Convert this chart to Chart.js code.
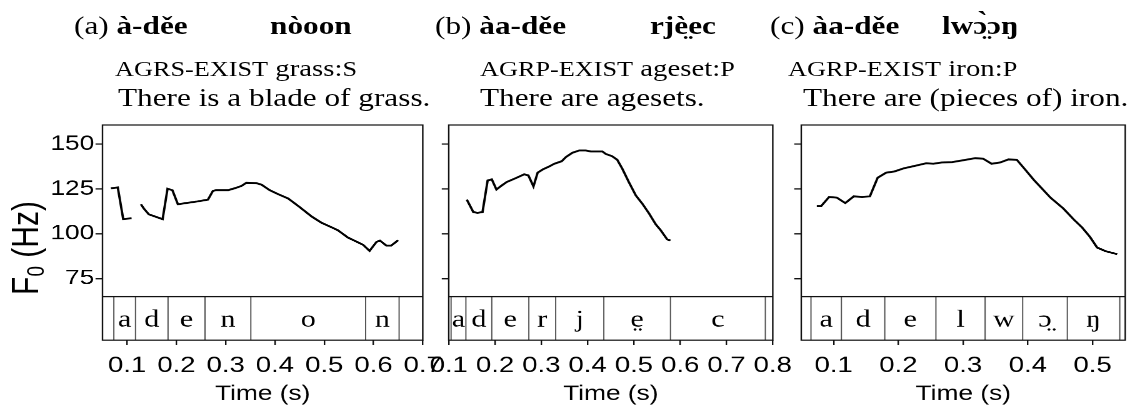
<!DOCTYPE html>
<html>
<head>
<meta charset="utf-8">
<title>F0 traces</title>
<script src="https://cdn.jsdelivr.net/npm/chart.js"></script>
<style>
    html, body { margin: 0; padding: 0; background: #fff; overflow: hidden; }
    body { width: 1146px; height: 413px; position: relative; }
    /* the whole figure is drawn narrow and stretched sideways, like the reference */
    #wrap { position: absolute; left: 0; top: 0; width: 917px; height: 413px;
            transform: scaleX(1.25); transform-origin: 0 0; }
    .t { position: absolute; white-space: nowrap; line-height: 1; color: #000;
         font-family: "Liberation Serif", "DejaVu Serif", serif; }
    .r1 { font-size: 25px; top: 13px; }
    .r1 b { font-weight: bold; }
    .r2 { font-size: 23px; top: 57px; }
    .r2 .sc { font-size: 21px; }
    .r3 { font-size: 25px; top: 85px; }
    .panel { position: absolute; top: 108.5px; height: 299.5px; }
    #ylab { position: absolute; left: 22px; top: 247.5px; width: 0; height: 0; }
    #ylab span { position: absolute; white-space: nowrap; line-height: 1;
                 font-family: "Liberation Sans", Arial, sans-serif; font-size: 30px;
                 transform: translate(-50%, -50%) rotate(-90deg); }
    #ylab sub { font-size: 19px; vertical-align: -5px; }
</style>
</head>
<body>
<div id="wrap">
    <div class="t r1" style="left:59.2px">(a) <b>à-děe</b></div>
    <div class="t r1" style="left:216px"><b>nòoon</b></div>
    <div class="t r1" style="left:348px">(b) <b>àa-děe</b></div>
    <div class="t r1" style="left:520px"><b>rjè̤ec</b></div>
    <div class="t r1" style="left:616px">(c) <b>àa-děe</b></div>
    <div class="t r1" style="left:753.6px"><b>lwɔ̤̀ɔŋ</b></div>

    <div class="t r2" style="left:92px"><span class="sc">AGRS-EXIST</span> grass:<span class="sc">S</span></div>
    <div class="t r2" style="left:384px"><span class="sc">AGRP-EXIST</span> ageset:<span class="sc">P</span></div>
    <div class="t r2" style="left:630.4px"><span class="sc">AGRP-EXIST</span> iron:<span class="sc">P</span></div>

    <div class="t r3" style="left:94.4px">There is a blade of grass.</div>
    <div class="t r3" style="left:384px">There are agesets.</div>
    <div class="t r3" style="left:642.4px">There are (pieces of) iron.</div>

    <div id="ylab"><span>F<sub>0</sub> (Hz)</span></div>

    <div class="panel" style="left:31.6px; width:329px"><canvas id="chartA"></canvas></div>
    <div class="panel" style="left:309.4px; width:332px"><canvas id="chartB"></canvas></div>
    <div class="panel" style="left:590.8px; width:331.2px"><canvas id="chartC"></canvas></div>
</div>

<script>
// (a) à-děe nòoon  (null = break in the pitch track)
const aTime = [0.067, 0.081, 0.092, 0.109, 0.118, 0.128, 0.134, 0.144, 0.160, 0.172, 0.182, 0.192, 0.203, 0.220, 0.241, 0.256, 0.264, 0.274, 0.281, 0.305, 0.318, 0.332, 0.342, 0.362, 0.373, 0.389, 0.406, 0.427, 0.450, 0.474, 0.494, 0.518, 0.528, 0.548, 0.569, 0.579, 0.592, 0.606, 0.613, 0.626, 0.636, 0.650];
const aF0 = [125.3, 125.8, 108.2, 108.6, null, 116.4, 114.0, 110.8, 109.3, 108.1, 125.1, 124.2, 116.4, 117.1, 117.9, 118.6, 119.0, 123.8, 124.3, 124.3, 125.3, 126.6, 128.4, 128.2, 127.3, 124.3, 122.1, 119.6, 114.9, 109.7, 106.2, 103.2, 101.9, 97.9, 95.1, 93.8, 90.4, 95.4, 96.2, 93.4, 93.4, 96.4];
const aBounds = [0.073, 0.117, 0.183, 0.258, 0.351, 0.584, 0.652];
const aSegs = ['a', 'd', 'e', 'n', 'o', 'n'];
const aTicks = [0.1, 0.2, 0.3, 0.4, 0.5, 0.6, 0.7];

// (b) àa-děe rjè̤ec
const bTime = [0.139, 0.153, 0.162, 0.173, 0.184, 0.193, 0.203, 0.213, 0.225, 0.245, 0.263, 0.272, 0.283, 0.292, 0.303, 0.317, 0.328, 0.344, 0.353, 0.367, 0.382, 0.396, 0.407, 0.432, 0.439, 0.453, 0.464, 0.475, 0.489, 0.504, 0.518, 0.533, 0.547, 0.558, 0.572, 0.579];
const bF0 = [119.0, 112.1, 111.6, 112.1, 129.7, 130.3, 124.6, 126.6, 128.8, 131.0, 133.1, 132.5, 126.4, 134.0, 135.8, 137.5, 139.0, 140.4, 142.7, 145.1, 146.4, 146.4, 145.8, 145.8, 144.5, 143.2, 141.2, 136.2, 128.8, 121.4, 116.8, 111.2, 105.3, 101.9, 96.8, 96.2];
const bBounds = [0.105, 0.137, 0.193, 0.273, 0.331, 0.435, 0.579, 0.784];
const bSegs = ['a', 'd', 'e', 'r', 'j', 'e̤', 'c'];
const bTicks = [0.1, 0.2, 0.3, 0.4, 0.5, 0.6, 0.7, 0.8];

// (c) àa-děe lwɔ̤̀ɔŋ
const cTime = [0.074, 0.081, 0.093, 0.105, 0.118, 0.131, 0.144, 0.156, 0.168, 0.181, 0.194, 0.208, 0.224, 0.243, 0.254, 0.267, 0.283, 0.298, 0.319, 0.331, 0.344, 0.357, 0.370, 0.383, 0.396, 0.409, 0.422, 0.435, 0.455, 0.471, 0.484, 0.496, 0.507, 0.520, 0.538];
const cF0 = [115.5, 115.5, 120.5, 120.1, 117.1, 120.8, 120.5, 120.8, 131.2, 134.0, 134.7, 136.4, 137.7, 139.3, 139.0, 139.7, 139.9, 140.8, 142.1, 141.8, 139.0, 139.7, 141.4, 141.2, 135.7, 130.1, 125.1, 120.1, 114.0, 107.9, 103.4, 98.2, 92.3, 90.3, 88.6];
const cBounds = [0.065, 0.112, 0.179, 0.258, 0.334, 0.392, 0.461, 0.542];
const cSegs = ['a', 'd', 'e', 'l', 'w', 'ɔ̤', 'ŋ'];
const cTicks = [0.1, 0.2, 0.3, 0.4, 0.5];

const yTicks = [75, 100, 125, 150];
const yMin = 40.7, yMax = 160.6, tierTop = 64.9;

const SANS = '"Liberation Sans", Arial, sans-serif';
const SERIF = '"Liberation Serif", "DejaVu Serif", serif';

// frame + segment tier under the pitch track
const tierPlugin = {
    id: 'tier',
    afterDraw(chart, args, opts) {
        const { ctx, chartArea: a, scales: { x, y } } = chart;
        const yT = y.getPixelForValue(tierTop);
        ctx.save();
        ctx.strokeStyle = '#555';
        ctx.lineWidth = 1;
        opts.bounds.forEach(b => {
            const px = x.getPixelForValue(b);
            ctx.beginPath();
            ctx.moveTo(px, yT);
            ctx.lineTo(px, a.bottom);
            ctx.stroke();
        });
        ctx.strokeStyle = '#111';
        ctx.lineWidth = 1.2;
        ctx.strokeRect(a.left, a.top, a.right - a.left, a.bottom - a.top);
        ctx.beginPath();
        ctx.moveTo(a.left, yT);
        ctx.lineTo(a.right, yT);
        ctx.stroke();
        ctx.fillStyle = '#000';
        ctx.font = '24px ' + SERIF;
        ctx.textAlign = 'center';
        ctx.textBaseline = 'alphabetic';
        opts.labels.forEach((l, i) => {
            const mid = (opts.bounds[i] + opts.bounds[i + 1]) / 2;
            ctx.fillText(l, x.getPixelForValue(mid), yT + 30);
        });
        ctx.restore();
    }
};

function makePanel(id, times, f0, xMin, xMax, xTicks, bounds, segs, yLabels) {
    const pts = times.map((t, i) => ({ x: t, y: f0[i] }));
    return new Chart(document.getElementById(id), {
        type: 'line',
        data: {
            datasets: [{
                data: pts,
                borderColor: '#000',
                borderWidth: 1.9,
                pointRadius: 0,
                tension: 0,
                spanGaps: false
            }]
        },
        options: {
            responsive: true,
            maintainAspectRatio: false,
            animation: false,
            devicePixelRatio: 2,
            layout: { padding: { left: 0, right: 22, top: 16, bottom: 0 } },
            plugins: {
                legend: { display: false },
                tooltip: { enabled: false },
                tier: { bounds: bounds, labels: segs }
            },
            scales: {
                x: {
                    type: 'linear',
                    min: xMin,
                    max: xMax,
                    afterBuildTicks: s => { s.ticks = xTicks.map(v => ({ value: v })); },
                    afterFit: s => { s.height = 68; },
                    border: { display: false },
                    grid: { drawOnChartArea: false, drawTicks: true, tickLength: 5, color: '#111', lineWidth: 1.2 },
                    ticks: {
                        autoSkip: false, maxRotation: 0, padding: 7.5, color: '#000',
                        font: { family: SANS, size: 22 },
                        callback: v => v.toFixed(1)
                    },
                    title: {
                        display: true, text: 'Time (s)', color: '#000',
                        font: { family: SANS, size: 21 },
                        padding: { top: 0, bottom: 1 }
                    }
                },
                y: {
                    type: 'linear',
                    min: yMin,
                    max: yMax,
                    afterBuildTicks: s => { s.ticks = yTicks.map(v => ({ value: v })); },
                    afterFit: s => { s.width = 50; },
                    border: { display: false },
                    grid: { drawOnChartArea: false, drawTicks: true, tickLength: 5.6, color: '#111', lineWidth: 1.2 },
                    ticks: {
                        padding: 1, color: '#000',
                        font: { family: SANS, size: 21 },
                        callback: v => yLabels ? String(v) : ''
                    }
                }
            }
        },
        plugins: [tierPlugin]
    });
}

makePanel('chartA', aTime, aF0, 0.05, 0.7, aTicks, aBounds, aSegs, true);
makePanel('chartB', bTime, bF0, 0.1, 0.8, bTicks, bBounds, bSegs, false);
makePanel('chartC', cTime, cF0, 0.05, 0.5505, cTicks, cBounds, cSegs, false);
</script>
</body>
</html>
